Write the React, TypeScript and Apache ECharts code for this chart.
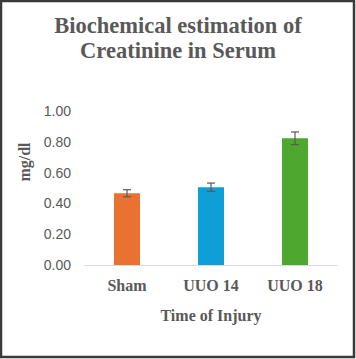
import React, { useEffect, useRef } from "react";
import * as echarts from "echarts";

const categories = ["Sham", "UUO 14", "UUO 18"];
const values = [0.466, 0.505, 0.823];
const errors = [0.023, 0.027, 0.041];
const barColors = ["#E97132", "#0F9ED5", "#4EA72E"];
const yTicks = [0, 0.2, 0.4, 0.6, 0.8, 1.0];

export default function App() {
  const ref = useRef<HTMLDivElement>(null);
  useEffect(() => {
    const chart = echarts.init(ref.current!, null, { renderer: "svg" });
    const serif = "'Liberation Serif', 'Times New Roman', serif";
    chart.setOption({
      animation: false,
      backgroundColor: "#ffffff",
      title: {
        text: "Biochemical estimation of\nCreatinine in Serum",
        left: "center",
        top: 13,
        padding: 0,
        textStyle: {
          fontFamily: serif,
          fontWeight: "bold",
          fontSize: 22.5,
          color: "#595959",
          lineHeight: 25,
        },
      },
      grid: { left: 85, right: 19, top: 111, bottom: 94, containLabel: false },
      xAxis: {
        type: "category",
        data: categories,
        name: "Time of Injury",
        nameLocation: "middle",
        nameGap: 42,
        nameTextStyle: { fontFamily: serif, fontWeight: "bold", fontSize: 16, color: "#595959" },
        axisLine: { lineStyle: { color: "#D9D9D9", width: 1 } },
        axisTick: { show: false },
        axisLabel: { fontFamily: serif, fontWeight: "bold", fontSize: 16, color: "#595959", margin: 12 },
      },
      yAxis: {
        type: "value",
        min: yTicks[0],
        max: yTicks[yTicks.length - 1],
        interval: 0.2,
        axisLine: { show: false },
        axisTick: { show: false },
        splitLine: { show: false },
        axisLabel: {
          fontFamily: "'Liberation Sans', Arial, sans-serif",
          fontSize: 14,
          color: "#595959",
          margin: 14,
          formatter: (v: number) => v.toFixed(2),
        },
      },
      series: [
        {
          type: "bar",
          barWidth: 26,
          data: values.map((v, i) => ({ value: v, itemStyle: { color: barColors[i] } })),
        },
        {
          type: "custom",
          data: values.map((v, i) => [i, v - errors[i], v + errors[i]]),
          renderItem: (params: any, api: any) => {
            const x = api.value(0);
            const lo = api.coord([x, api.value(1)]);
            const hi = api.coord([x, api.value(2)]);
            const hw = 4;
            const style = { stroke: "#595959", lineWidth: 1.2 };
            return {
              type: "group",
              children: [
                { type: "line", shape: { x1: lo[0], y1: lo[1], x2: hi[0], y2: hi[1] }, style },
                { type: "line", shape: { x1: lo[0] - hw, y1: lo[1], x2: lo[0] + hw, y2: lo[1] }, style },
                { type: "line", shape: { x1: hi[0] - hw, y1: hi[1], x2: hi[0] + hw, y2: hi[1] }, style },
              ],
            };
          },
          z: 5,
        },
      ],
      graphic: [
        {
          type: "text",
          x: 24,
          y: 162,
          rotation: Math.PI / 2,
          style: {
            text: "mg/dl",
            fontFamily: serif,
            fontWeight: "bold",
            fontSize: 16,
            fill: "#595959",
            align: "center",
            verticalAlign: "middle",
          },
          silent: true,
        },
        {
          type: "rect",
          shape: { x: 1, y: 1, width: 353, height: 356 },
          style: { fill: "none", stroke: "#3a3a3a", lineWidth: 2.5 },
          silent: true,
        },
      ],
    });
    return () => chart.dispose();
  }, []);
  return (
    <div
      ref={ref}
      style={{ position: "absolute", left: 0, top: 0, width: 356, height: 359 }}
    />
  );
}
